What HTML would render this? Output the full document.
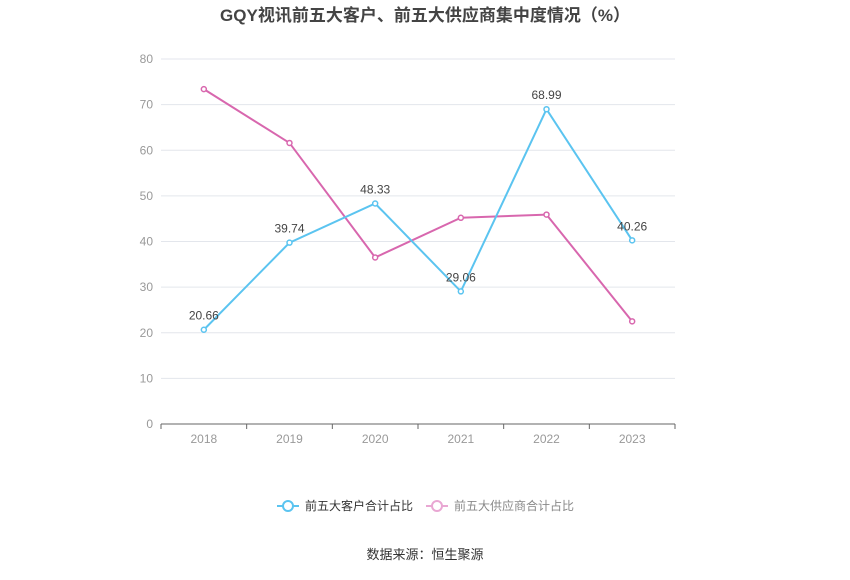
<!DOCTYPE html>
<html><head><meta charset="utf-8"><style>
body{margin:0;background:#fff;}
svg text{font-family:"Liberation Sans","Noto Sans CJK SC",sans-serif;}
</style></head><body>
<svg id="chart" width="850" height="575" xmlns="http://www.w3.org/2000/svg">
<text x="425" y="21" text-anchor="middle" font-size="17" font-weight="bold" fill="#444">GQY视讯前五大客户、前五大供应商集中度情况（%）</text>
<g id="grid"></g><g id="axes"></g><g id="series"></g>
<g>
<line x1="277" y1="506" x2="299" y2="506" stroke="#5bc4f0" stroke-width="2"/>
<circle cx="288" cy="506" r="5" fill="#fff" stroke="#5bc4f0" stroke-width="2"/>
<text x="305" y="510" font-size="12" fill="#333">前五大客户合计占比</text>
<line x1="426" y1="506" x2="448" y2="506" stroke="#e9a7d3" stroke-width="2"/>
<circle cx="437" cy="506" r="5" fill="#fff" stroke="#e9a7d3" stroke-width="2"/>
<text x="454" y="510" font-size="12" fill="#888">前五大供应商合计占比</text>
</g>
<text x="425" y="559" text-anchor="middle" font-size="13" fill="#333">数据来源：恒生聚源</text>
</svg>
<script>
const categories=["2018","2019","2020","2021","2022","2023"];
const customers=[20.66,39.74,48.33,29.06,68.99,40.26];
const suppliers=[73.4,61.6,36.5,45.2,45.9,22.5];
const yTicks=[0,10,20,30,40,50,60,70,80];
const NS="http://www.w3.org/2000/svg";
const x0=161,x1=675,yTop=59,yBot=424,ymax=80;
const step=(x1-x0)/categories.length;
const xs=i=>x0+step*(i+0.5);
const ys=v=>yBot-(v/ymax)*(yBot-yTop);
function mk(t,a,p){const e=document.createElementNS(NS,t);for(const k in a)e.setAttribute(k,a[k]);p.appendChild(e);return e;}
const grid=document.getElementById('grid'),axes=document.getElementById('axes'),ser=document.getElementById('series');
yTicks.forEach(v=>{
 const l=mk('line',{x1:x0,x2:x1,y1:ys(v),y2:ys(v),stroke:v===0?'#666':'#e3e6ec'},grid);
 
 
 const t=mk('text',{x:153,y:ys(v)+4,'text-anchor':'end','font-size':12,fill:'#999'},axes);
 t.textContent=v;
 
 
});
categories.forEach((c,i)=>{
 const tk=mk('line',{x1:x0+step*i,x2:x0+step*i,y1:yBot,y2:yBot+5,stroke:'#666'},axes);
 
 
 const t=mk('text',{x:xs(i),y:443,'text-anchor':'middle','font-size':12,fill:'#999'},axes);
 t.textContent=c;
 
 
});
mk('line',{x1:x1,x2:x1,y1:yBot,y2:yBot+5,stroke:'#666'},axes);
function draw(vals,color,name,labels){
 const p=mk('polyline',{points:vals.map((v,i)=>xs(i)+','+ys(v)).join(' '),fill:'none',stroke:color,'stroke-width':2},ser);
 
 
 vals.forEach((v,i)=>{
  const c=mk('circle',{cx:xs(i),cy:ys(v),r:2.5,fill:'#fff',stroke:color,'stroke-width':1.5},ser);
  
  
  if(labels){
   const t=mk('text',{x:xs(i),y:ys(v)-10,'text-anchor':'middle','font-size':12,fill:'#444'},ser);
   t.textContent=v.toFixed(2);
   
   
  }
 });
}
draw(suppliers,'#d867ae','suppliers',false);
draw(customers,'#5bc4f0','customers',true);
</script>
</body></html>
